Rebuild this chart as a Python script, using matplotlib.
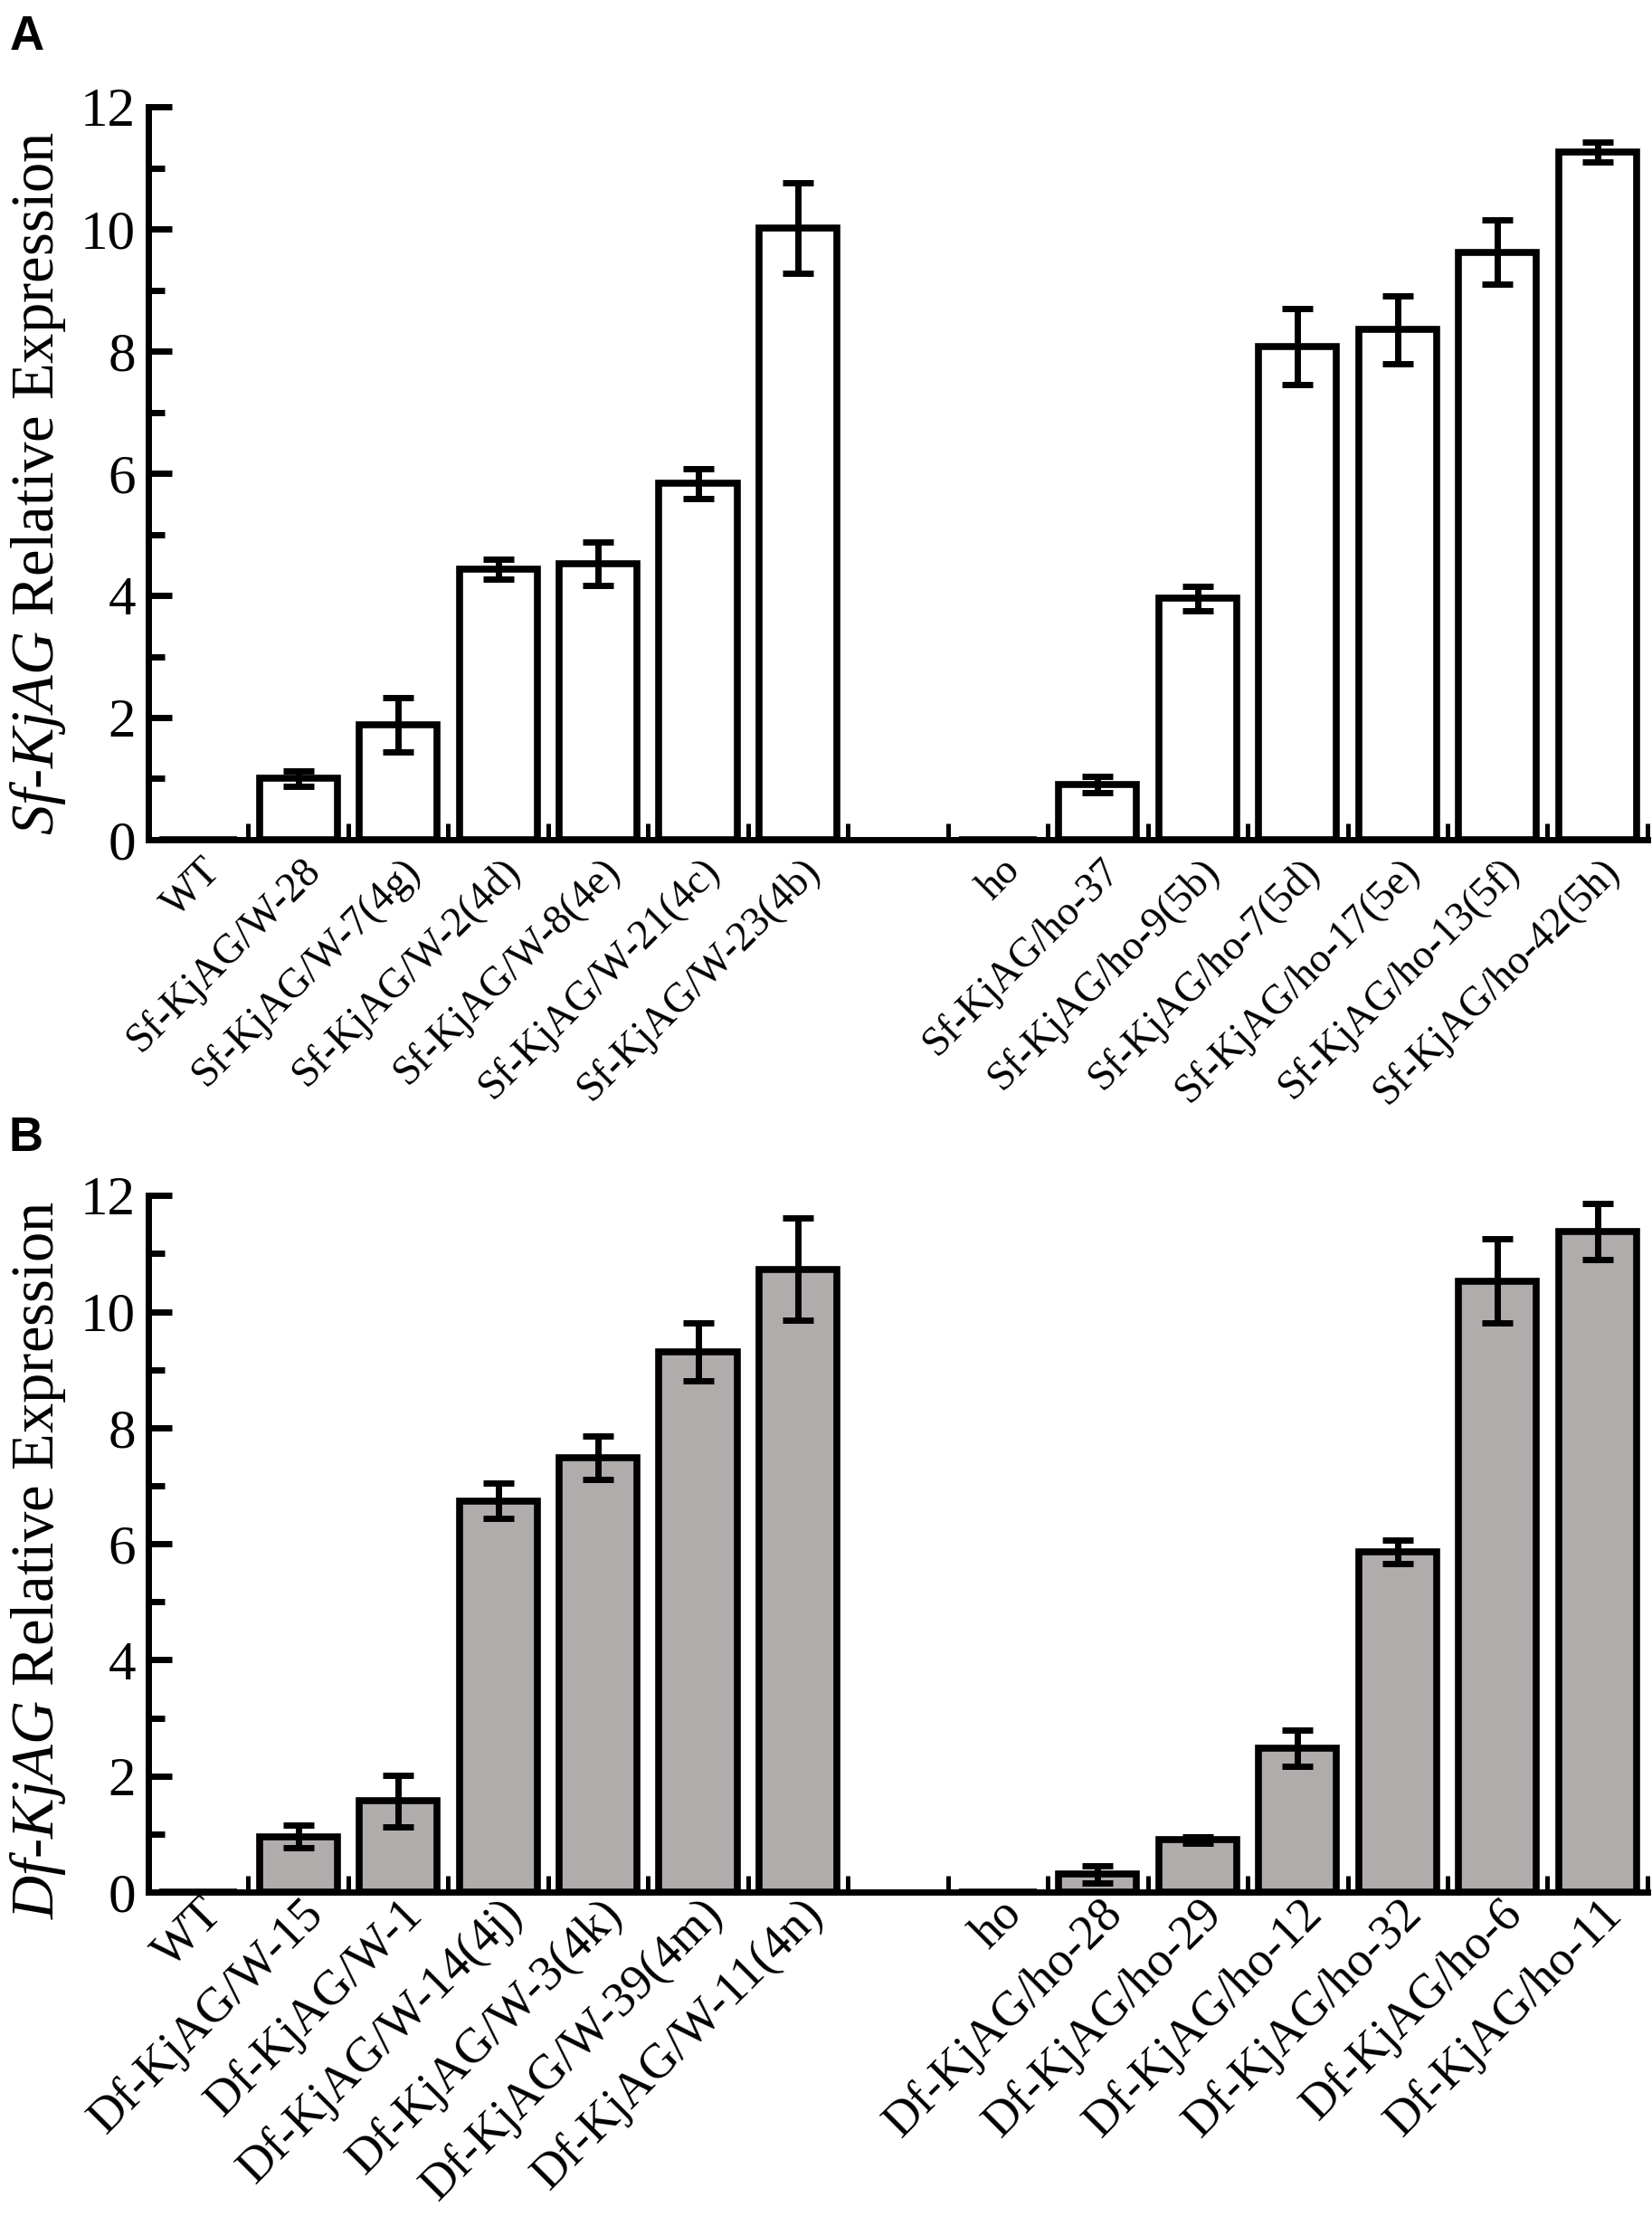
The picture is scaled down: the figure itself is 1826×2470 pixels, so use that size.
import numpy as np
import matplotlib
matplotlib.use('Agg')
import matplotlib.pyplot as plt
import matplotlib.transforms as mtransforms
from matplotlib.ticker import MultipleLocator, FixedLocator

plt.rcParams['font.family'] = ['Liberation Serif', 'DejaVu Serif']
plt.rcParams['mathtext.fontset'] = 'custom'
plt.rcParams['mathtext.it'] = 'Liberation Serif:italic'
plt.rcParams['mathtext.rm'] = 'Liberation Serif'

# panel A: Sf-KjAG lines (index 7 is the empty gap slot)
labels_a = ['WT', 'Sf-KjAG/W-28', 'Sf-KjAG/W-7(4g)', 'Sf-KjAG/W-2(4d)', 'Sf-KjAG/W-8(4e)',
            'Sf-KjAG/W-21(4c)', 'Sf-KjAG/W-23(4b)', '',
            'ho', 'Sf-KjAG/ho-37', 'Sf-KjAG/ho-9(5b)', 'Sf-KjAG/ho-7(5d)', 'Sf-KjAG/ho-17(5e)',
            'Sf-KjAG/ho-13(5f)', 'Sf-KjAG/ho-42(5h)']
means_a = [0, 1.0, 1.88, 4.43, 4.52, 5.83, 10.02, np.nan,
           0, 0.9, 3.95, 8.07, 8.35, 9.62, 11.26]
errs_a = [0, 0.12, 0.45, 0.17, 0.35, 0.25, 0.74, np.nan,
          0, 0.13, 0.2, 0.62, 0.56, 0.53, 0.17]

# panel B: Df-KjAG lines
labels_b = ['WT', 'Df-KjAG/W-15', 'Df-KjAG/W-1', 'Df-KjAG/W-14(4j)', 'Df-KjAG/W-3(4k)',
            'Df-KjAG/W-39(4m)', 'Df-KjAG/W-11(4n)', '',
            'ho', 'Df-KjAG/ho-28', 'Df-KjAG/ho-29', 'Df-KjAG/ho-12', 'Df-KjAG/ho-32',
            'Df-KjAG/ho-6', 'Df-KjAG/ho-11']
means_b = [0, 0.96, 1.57, 6.74, 7.48, 9.31, 10.73, np.nan,
           0, 0.31, 0.9, 2.48, 5.86, 10.53, 11.38]
errs_b = [0, 0.2, 0.45, 0.3, 0.37, 0.5, 0.88, np.nan,
          0, 0.15, 0.05, 0.31, 0.2, 0.73, 0.48]

fig = plt.figure(figsize=(18.26, 24.70), dpi=100)
ax_a = fig.add_axes([0.0898, 0.6243, 0.9074, 0.3279])
ax_b = fig.add_axes([0.0898, 0.1534, 0.9074, 0.3117])


def draw_panel(ax, labels, means, errs, color, xfont, ylabel, label_dx, label_pad):
    x = np.arange(len(labels))
    m = np.array(means, dtype=float)
    e = np.array(errs, dtype=float)
    ok = ~np.isnan(m)
    ax.bar(x[ok], m[ok], width=0.78, color=color, edgecolor='black', linewidth=5.5, zorder=2)
    ax.errorbar(x[ok], m[ok], yerr=e[ok], fmt='none', ecolor='black', elinewidth=5,
                capsize=12, capthick=5, zorder=3)

    ax.set_xlim(-0.5, len(labels) - 0.5)
    ax.set_ylim(0, 12)
    for s in ['top', 'right']:
        ax.spines[s].set_visible(False)
    for s in ['left', 'bottom']:
        ax.spines[s].set_linewidth(5)

    ax.yaxis.set_major_locator(MultipleLocator(2))
    ax.yaxis.set_minor_locator(MultipleLocator(1))
    ax.tick_params(axis='y', which='major', direction='in', length=19, width=5,
                   labelsize=44, pad=10)
    ax.tick_params(axis='y', which='minor', direction='in', length=13, width=5)

    ax.set_xticks(x)
    ax.set_xticklabels(labels, rotation=45, ha='right', va='center',
                       rotation_mode='anchor', fontsize=xfont)
    ax.xaxis.set_minor_locator(FixedLocator(np.arange(len(labels)) + 0.5))
    ax.tick_params(axis='x', which='major', length=0, pad=label_pad)
    ax.tick_params(axis='x', which='minor', direction='in', length=13, width=3.6)
    offset = mtransforms.ScaledTranslation(label_dx / 72, 0, fig.dpi_scale_trans)
    for lab in ax.get_xticklabels():
        lab.set_transform(lab.get_transform() + offset)
    ax.set_ylabel('')
    return ax


draw_panel(ax_a, labels_a, means_a, errs_a, 'white', 33,
           r'$Sf$-$KjAG$ Relative Expression', 13, 20)
draw_panel(ax_b, labels_b, means_b, errs_b, '#afacab', 39,
           r'$Df$-$KjAG$ Relative Expression', 14, 12)

fig.text(0.023, 0.784, r'$Sf$-$KjAG$ Relative Expression', rotation=90,
         ha='center', va='center', fontsize=48)
fig.text(0.023, 0.302, r'$Df$-$KjAG$ Relative Expression', rotation=90,
         ha='center', va='center', fontsize=48)

fig.text(0.006, 0.9935, 'A', family='Liberation Sans', weight='bold', fontsize=38,
         ha='left', va='top')
fig.text(0.005, 0.5008, 'B', family='Liberation Sans', weight='bold', fontsize=38,
         ha='left', va='top')

fig.savefig('out.png', dpi=100)
